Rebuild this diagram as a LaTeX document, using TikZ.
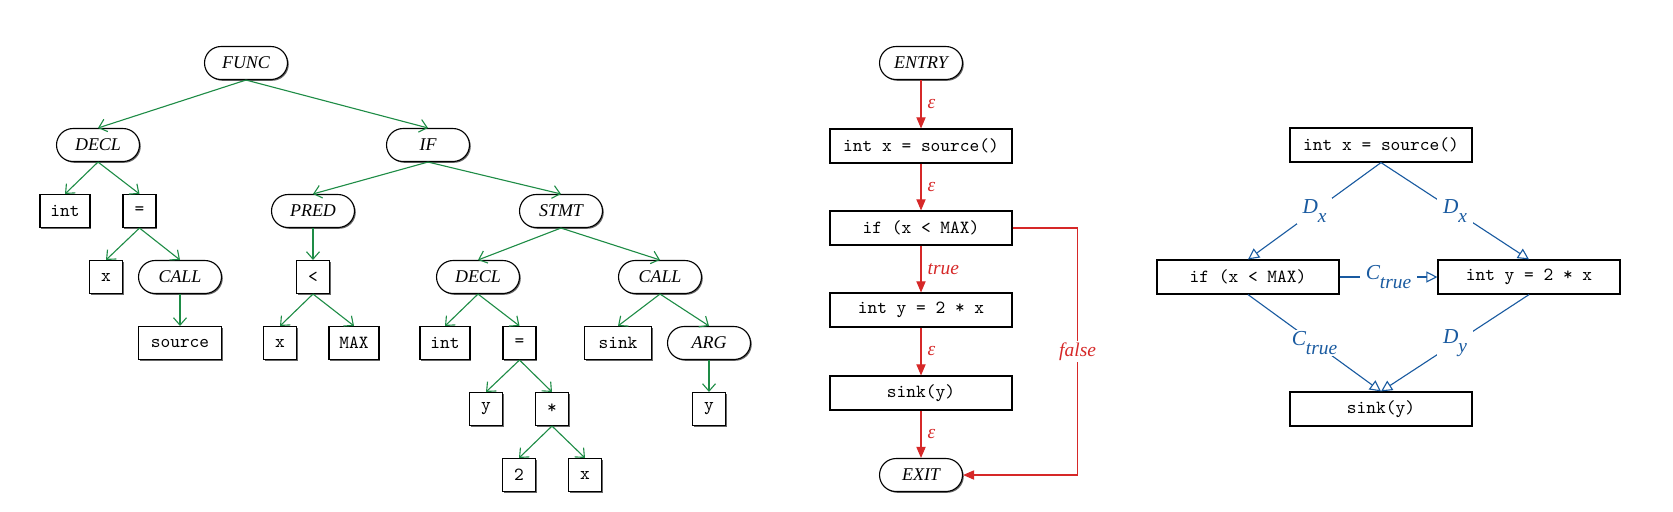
\documentclass[tikz,border=0pt]{standalone}
\usepackage{fontspec}
\setmainfont{Liberation Serif}
\usetikzlibrary{arrows.meta,shapes.misc,shadows}

\definecolor{astgreen}{RGB}{30,140,70}
\definecolor{cfgred}{RGB}{214,40,40}
\definecolor{pdgblue}{RGB}{25,90,160}

\newcommand{\depl}[2]{#1\raisebox{-4.5pt}{\fontsize{10.5}{12}\selectfont #2}}

\tikzset{
  shadowed/.style={draw, line width=0.6pt, fill=white,
    drop shadow={shadow xshift=0.7pt, shadow yshift=-0.7pt, opacity=0.6, fill=black}},
  astinner/.style={shadowed, rounded rectangle, minimum width=44.8pt, minimum height=17.8pt,
    inner sep=0pt, font=\fontsize{9.7}{11}\selectfont\itshape},
  leaf/.style={shadowed, rectangle, minimum width=#1, minimum height=17.8pt,
    inner sep=0pt, font=\fontsize{10}{12}\selectfont\ttfamily},
  leaf/.default=17.8pt,
  stmt/.style={leaf=98.3pt, minimum height=18.4pt},
  ast/.style={astgreen, line width=0.6pt, -{Straight Barb[length=4pt,width=7pt]}},
  cfg/.style={cfgred, line width=0.6pt, -{Triangle[length=6pt,width=5pt]}},
  pdg/.style={pdgblue, line width=0.6pt, -{Triangle[open,length=6pt,width=6pt]}},
  elbl/.style={font=\fontsize{10.5}{12}\selectfont\itshape},
  plbl/.style={fill=white, inner xsep=3pt, inner ysep=1pt, font=\fontsize{11.5}{13}\selectfont\itshape},
}

\begin{document}
\begin{tikzpicture}[x=0.54pt, y=-0.54pt]
   \useasboundingbox (0,0) rectangle (1673,511);
   % syntax tree
   \node[astinner] (func) at (246,63) {FUNC};
   \node[astinner] (decl) at (98,145) {DECL};
   \node[astinner] (if) at (428,145) {IF};
   \node[leaf=27pt] (int) at (65,211) {int};
   \node[leaf] (assign) at (139.5,211) {=};
   \node[leaf] (x) at (106,277) {x};
   \node[astinner] (call) at (180,277) {CALL};
   \node[leaf=44.8pt] (source) at (180,343) {source};
   \node[astinner] (pred) at (313,211) {PRED};
   \node[astinner] (stmt) at (561,211) {STMT};
   \node[leaf] (lt) at (313,277) {<};
   \node[leaf] (xb) at (280,343) {x};
   \node[leaf=27pt] (max) at (354,343) {MAX};
   \node[astinner] (declb) at (478,277) {DECL};
   \node[astinner] (callb) at (660,277) {CALL};
   \node[leaf=27pt] (intb) at (445,343) {int};
   \node[leaf] (assignb) at (519.5,343) {=};
   \node[leaf=36pt] (sink) at (618,343) {sink};
   \node[astinner] (arg) at (709,343) {ARG};
   \node[leaf] (y) at (486,409) {y};
   \node[leaf] (mul) at (552,409) {*};
   \node[leaf] (yb) at (709,409) {y};
   \node[leaf] (two) at (519,475) {2};
   \node[leaf] (xc) at (585,475) {x};
   \draw[ast] (func.south) -- (decl.north);
   \draw[ast] (func.south) -- (if.north);
   \draw[ast] (decl.south) -- (int.north);
   \draw[ast] (decl.south) -- (assign.north);
   \draw[ast] (assign.south) -- (x.north);
   \draw[ast] (assign.south) -- (call.north);
   \draw[ast] (call.south) -- (source.north);
   \draw[ast] (if.south) -- (pred.north);
   \draw[ast] (if.south) -- (stmt.north);
   \draw[ast] (pred.south) -- (lt.north);
   \draw[ast] (lt.south) -- (xb.north);
   \draw[ast] (lt.south) -- (max.north);
   \draw[ast] (stmt.south) -- (declb.north);
   \draw[ast] (stmt.south) -- (callb.north);
   \draw[ast] (declb.south) -- (intb.north);
   \draw[ast] (declb.south) -- (assignb.north);
   \draw[ast] (assignb.south) -- (y.north);
   \draw[ast] (assignb.south) -- (mul.north);
   \draw[ast] (mul.south) -- (two.north);
   \draw[ast] (mul.south) -- (xc.north);
   \draw[ast] (callb.south) -- (sink.north);
   \draw[ast] (callb.south) -- (arg.north);
   \draw[ast] (arg.south) -- (yb.north);
   % control flow
   \node[astinner] (entry) at (921,63) {ENTRY};
   \node[stmt] (src) at (921,146) {int x = source()};
   \node[stmt] (cond) at (921,228) {if (x < MAX)};
   \node[stmt] (asgn) at (921,310) {int y = 2 * x};
   \node[stmt] (snk) at (921,393) {sink(y)};
   \node[astinner] (exit) at (921,475) {EXIT};
   \draw[cfg] (entry.south) -- (src.north) node[midway, right, elbl]{ε};
   \draw[cfg] (src.south) -- (cond.north) node[midway, right, elbl]{ε};
   \draw[cfg] (cond.south) -- (asgn.north) node[midway, right, elbl]{true};
   \draw[cfg] (asgn.south) -- (snk.north) node[midway, right, elbl]{ε};
   \draw[cfg] (snk.south) -- (exit.north) node[midway, right, elbl]{ε};
   \draw[cfg] (cond.east) -- ++(65,0) |- (exit.east)
      node[pos=0.25, elbl, fill=white, inner sep=1pt]{false};
   % dependences
   \node[stmt] (psrc) at (1381,145) {int x = source()};
   \node[stmt] (pcond) at (1248,277) {if (x < MAX)};
   \node[stmt] (pasgn) at (1529,277) {int y = 2 * x};
   \node[stmt] (psnk) at (1381,409) {sink(y)};
   \draw[pdg] (psrc.south) -- (pcond.north) node[midway, plbl]{\depl{D}{x}};
   \draw[pdg] (psrc.south) -- (pasgn.north) node[midway, plbl]{\depl{D}{x}};
   \draw[pdg] (pcond.east) -- (pasgn.west) node[midway, plbl]{\depl{C}{true}};
   \draw[pdg] (pcond.south) -- (psnk.north) node[midway, plbl]{\depl{C}{true}};
   \draw[pdg] (pasgn.south) -- (psnk.north) node[midway, plbl]{\depl{D}{y}};
 \end{tikzpicture}
\end{document}
